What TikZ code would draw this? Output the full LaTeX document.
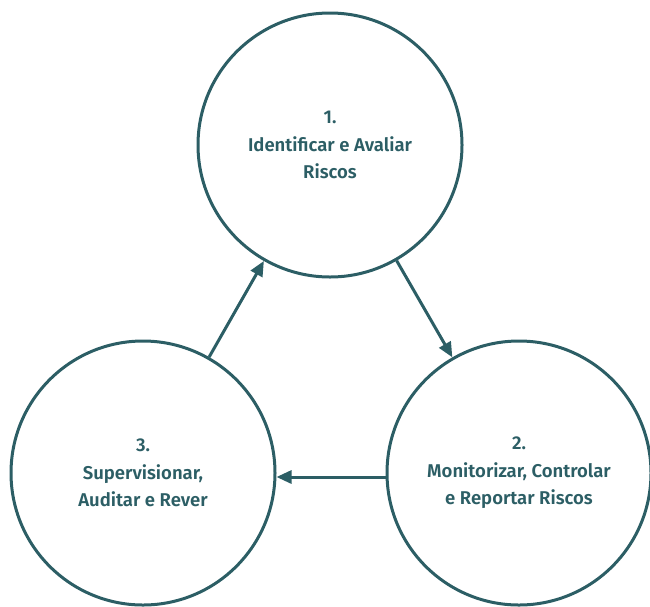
\documentclass[tikz,border=0pt]{standalone}
\usepackage{fontspec}
\setmainfont{Fira Sans}[BoldFont={Fira Sans SemiBold}]
\usetikzlibrary{arrows.meta}
\definecolor{teal}{RGB}{44,94,101}
\begin{document}
\begin{tikzpicture}[x=1pt,y=-1pt,
  stage/.style={circle,draw=teal,line width=3pt,minimum size=264pt,inner sep=0pt,
    align=center,text=teal,font=\fontsize{18.5}{27.5}\selectfont\bfseries},
  flow/.style={draw=teal,line width=3pt,-{Triangle[length=15pt,width=13pt]}}]
\useasboundingbox (0,0) rectangle (650,606);
\node[stage] (s1) at (330,145) {1.\\Identificar e Avaliar\\Riscos};
\node[stage] (s2) at (519,473) {2.\\Monitorizar, Controlar\\e Reportar Riscos};
\node[stage] (s3) at (143,473) {3.\\Supervisionar,\\Auditar e Rever};
\draw[flow] (s1) -- (s2);
\draw[flow] ([yshift=-4pt]s2.west) -- ([yshift=-4pt]s3.east);
\draw[flow] (s3) -- (s1);
\end{tikzpicture}
\end{document}
